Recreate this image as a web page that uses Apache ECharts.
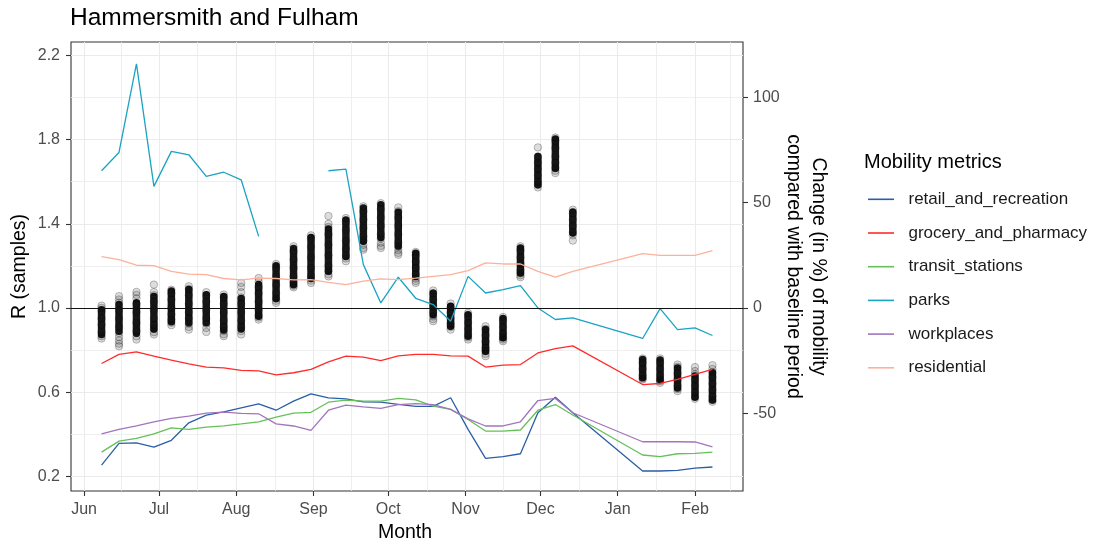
<!DOCTYPE html>
<html><head><meta charset="utf-8">
<script src="https://cdn.jsdelivr.net/npm/echarts@6/dist/echarts.min.js"></script>
<style>html,body{margin:0;padding:0;background:#fff}#c{width:1103px;height:548px}</style>
</head><body><div id="c"></div>
<script>
// ---------- data ----------
const weeks = ['2020-06-08','2020-06-15','2020-06-22','2020-06-29','2020-07-06','2020-07-13','2020-07-20','2020-07-27',
  '2020-08-03','2020-08-10','2020-08-17','2020-08-24','2020-08-31','2020-09-07','2020-09-14','2020-09-21','2020-09-28',
  '2020-10-05','2020-10-12','2020-10-19','2020-10-26','2020-11-02','2020-11-09','2020-11-16','2020-11-23','2020-11-30',
  '2020-12-07','2020-12-14','2021-01-11','2021-01-18','2021-01-25','2021-02-01','2021-02-08'];

const retail = [-74.7,-64.4,-64.1,-66.1,-62.9,-54.6,-50.9,-49.4,-47.5,-45.6,-48.6,-44.3,-40.8,-42.7,-43.2,-44.6,-44.8,
  -45.8,-46.8,-46.8,-42.7,-57.7,-71.5,-70.7,-69.3,-49.8,-42.4,-49.8,-77.5,-77.5,-77.2,-76.1,-75.6];
const grocery = [-26.4,-22.1,-20.9,-22.9,-24.8,-26.6,-28.1,-28.5,-29.7,-29.9,-31.8,-30.8,-29.2,-25.6,-22.9,-23.4,-25.0,
  -22.8,-22.1,-22.1,-22.8,-22.9,-28.1,-27.2,-26.9,-21.4,-19.3,-18.0,-36.4,-35.9,-34.0,-31.6,-29.2];
const transit = [-68.5,-63.3,-62.0,-59.8,-57.0,-57.7,-56.6,-56.0,-55.1,-54.1,-51.9,-50.0,-49.6,-44.8,-43.8,-44.3,-44.3,
  -43.0,-43.7,-46.7,-48.2,-53.0,-58.5,-58.5,-58.0,-48.6,-45.9,-50.9,-69.9,-70.7,-69.3,-69.1,-68.5];
const parks = [65.2,73.9,116.0,57.8,74.4,72.8,62.5,64.5,60.9,34.0,null,null,null,65.2,66.0,20.6,2.4,
  14.6,4.6,1.6,-6.3,15.0,7.1,8.7,10.6,0.0,-5.5,-4.7,-14.5,-0.3,-10.3,-9.5,-13.1];
const workplaces = [-59.8,-57.7,-56.1,-54.2,-52.5,-51.4,-50.0,-49.5,-50.1,-50.3,-55.1,-56.1,-58.2,-48.6,-46.2,-47.0,-47.7,
  -45.9,-45.5,-45.9,-48.2,-52.7,-56.1,-56.1,-54.1,-44.0,-43.0,-49.8,-63.6,-63.6,-63.6,-63.7,-66.0];
const residential = [24.4,23.0,20.3,20.1,17.4,16.1,15.8,14.0,13.3,14.2,14.0,13.3,13.5,12.2,11.1,12.7,13.8,
  13.5,14.2,15.0,15.8,17.7,21.4,20.9,20.9,17.4,14.6,17.4,25.8,25.0,25.0,25.0,27.2];

const metricNames = ['retail_and_recreation','grocery_and_pharmacy','transit_stations','parks','workplaces','residential'];

// dense part of each week's R sample column
const rCoreLow  = [0.874,0.889,0.880,0.900,0.935,0.930,0.930,0.895,0.900,0.960,1.045,1.110,1.140,1.175,1.245,1.317,1.335,
  1.295,1.150,0.968,0.913,0.866,0.794,0.858,1.166,1.586,1.664,1.356,0.668,0.660,0.620,0.576,0.562];
const rCoreHigh = [0.992,1.016,1.025,1.055,1.080,1.088,1.063,1.055,1.045,1.112,1.200,1.283,1.335,1.375,1.418,1.475,1.490,
  1.455,1.260,1.070,1.008,0.968,0.897,0.950,1.285,1.720,1.803,1.456,0.755,0.753,0.715,0.676,0.692];
// individual R samples
const rSamples = [
  [1.011,1.0,0.985,0.95,0.92,0.885,0.866,0.855],
  [1.056,1.04,1.025,0.99,0.95,0.91,0.88,0.862,0.845,0.83,0.818],
  [1.076,1.062,1.045,1.02,0.98,0.93,0.89,0.865,0.85],
  [1.111,1.075,1.06,1.03,0.99,0.95,0.92,0.9,0.885,0.874],
  [1.087,1.07,1.04,1.0,0.97,0.945,0.93,0.918],
  [1.103,1.09,1.06,1.02,0.98,0.95,0.925,0.91,0.897],
  [1.075,1.06,1.03,0.99,0.95,0.925,0.905,0.886],
  [1.064,1.05,1.02,0.98,0.94,0.91,0.89,0.875,0.866],
  [1.119,1.1,1.075,1.05,1.02,0.98,0.94,0.91,0.89,0.874],
  [1.142,1.125,1.1,1.07,1.03,0.99,0.965,0.955,0.945],
  [1.209,1.19,1.15,1.11,1.07,1.045,1.034,1.024],
  [1.293,1.27,1.23,1.19,1.15,1.12,1.105,1.098],
  [1.345,1.33,1.29,1.24,1.19,1.15,1.13,1.119],
  [1.437,1.4,1.385,1.35,1.3,1.25,1.2,1.175,1.16,1.15],
  [1.427,1.41,1.37,1.32,1.28,1.25,1.235,1.222],
  [1.483,1.46,1.42,1.38,1.34,1.32,1.3,1.285,1.277],
  [1.498,1.47,1.43,1.39,1.35,1.33,1.31,1.295,1.285],
  [1.478,1.46,1.43,1.39,1.35,1.31,1.29,1.275,1.262,1.253],
  [1.266,1.25,1.22,1.19,1.16,1.14,1.128,1.119],
  [1.083,1.07,1.04,1.01,0.98,0.96,0.947,0.937],
  [1.021,1.005,0.98,0.95,0.925,0.91,0.897],
  [0.976,0.96,0.93,0.9,0.875,0.86,0.85],
  [0.913,0.9,0.87,0.84,0.81,0.795,0.782,0.771],
  [0.957,0.94,0.91,0.88,0.86,0.85,0.842],
  [1.293,1.275,1.24,1.21,1.18,1.165,1.155,1.146],
  [1.763,1.72,1.69,1.66,1.63,1.6,1.585,1.573],
  [1.81,1.795,1.76,1.72,1.69,1.665,1.652,1.641],
  [1.467,1.45,1.42,1.39,1.36,1.345,1.32],
  [0.76,0.74,0.71,0.68,0.665,0.66],
  [0.76,0.74,0.71,0.68,0.66,0.652,0.644],
  [0.731,0.72,0.69,0.66,0.63,0.615,0.605],
  [0.719,0.7,0.685,0.66,0.63,0.6,0.58,0.568],
  [0.728,0.71,0.695,0.67,0.64,0.61,0.58,0.562,0.554]
];

const monthTicks = ['2020-06-01','2020-07-01','2020-08-01','2020-09-01','2020-10-01','2020-11-01','2020-12-01','2021-01-01','2021-02-01'];
const monthMinor = ['2020-06-16T00','2020-07-16T12','2020-08-16T12','2020-09-16T00','2020-10-16T12','2020-11-16T00','2020-12-16T12','2021-01-16T12','2021-02-15T00'];
const monthNames = ['Jan','Feb','Mar','Apr','May','Jun','Jul','Aug','Sep','Oct','Nov','Dec'];
const rTicks = [0.2,0.6,1.0,1.4,1.8,2.2];
const rMinor = [0.4,0.8,1.2,1.6,2.0];
const mobTicks = [-50,0,50,100];
const refR = 1;

// ---------- helpers / styling ----------
const DAY = 86400000;
const ORIGIN = Date.UTC(2020, 5, 1);
// date string -> days since 2020-06-01 (UTC, no DST issues)
function toDay(s){
  const parts = s.split('T');
  const d = parts[0].split('-').map(Number);
  const h = parts[1] ? Number(parts[1]) : 0;
  return (Date.UTC(d[0], d[1]-1, d[2], h) - ORIGIN) / DAY;
}
function monthLabel(v){
  return monthNames[new Date(ORIGIN + Math.round(v) * DAY).getUTCMonth()];
}
const FONT = "'Liberation Sans', Arial, sans-serif";
const colors = ['#2B5EA6','#FF2B2B','#66C05A','#1AA3C2','#A175BE','#FDB19B'];
const metricValues = [retail, grocery, transit, parks, workplaces, residential];
const xMin = toDay('2020-05-26T18');
const xMax = toDay('2021-02-20T06');
const rMin = 0.130, rMax = 2.264;
const mobMin = (rMin - 1) * 100, mobMax = (rMax - 1) * 100;

const sampleData = [];
weeks.forEach((w, i) => rSamples[i].forEach(v => sampleData.push([toDay(w), v])));
const coreData = [];
weeks.forEach((w, i) => { const t = toDay(w); coreData.push([t, rCoreLow[i]], [t, rCoreHigh[i]], [t, '-']); });

const series = [
  { type:'scatter', name:'R samples', xAxisIndex:0, yAxisIndex:0, data:sampleData, symbolSize:7.5, silent:true, z:2,
    itemStyle:{ color:'rgba(0,0,0,0.17)', borderColor:'rgba(0,0,0,0.3)', borderWidth:1 } },
  { type:'line', name:'R core', xAxisIndex:0, yAxisIndex:0, data:coreData, showSymbol:false, symbol:'none', connectNulls:false,
    silent:true, z:3, lineStyle:{ color:'rgba(0,0,0,0.9)', width:7.5, cap:'round' },
    markLine:{ silent:true, symbol:['none','none'], label:{show:false}, animation:false,
      lineStyle:{ color:'#111', width:1.2, type:'solid' }, data:[{ yAxis: refR }] } }
];
metricNames.forEach((name, k) => {
  series.push({ type:'line', name, xAxisIndex:0, yAxisIndex:1, showSymbol:false, symbol:'none', connectNulls:false, silent:true, z:4,
    data: weeks.map((w, i) => [toDay(w), metricValues[k][i] == null ? '-' : metricValues[k][i]]),
    lineStyle:{ color:colors[k], width:1.3 }, itemStyle:{ color:colors[k] } });
});

const noLine = { show:false, onZero:false };
const tickStyle = { show:true, inside:false, length:5, lineStyle:{ color:'#333', width:1.1 } };
const hiddenTick = { show:false, length:0, lineStyle:{ color:'rgba(0,0,0,0)', width:0 } };
const labelStyle = { fontSize:16, color:'#4D4D4D', fontFamily:FONT };

const option = {
  animation:false,
  backgroundColor:'#fff',
  title:{ text:'Hammersmith and Fulham', left:70, top:5.75, padding:0,
    textStyle:{ fontSize:24.5, lineHeight:24.5, fontWeight:'normal', color:'#000', fontFamily:FONT } },
  grid:{ left:71, right:360, top:42, bottom:57, show:true, borderColor:'#333', borderWidth:1.1, backgroundColor:'#fff' },
  legend:{ data:metricNames, orient:'vertical', left:868, top:190.3, padding:0, itemGap:15.7, itemWidth:26, itemHeight:1.6,
    icon:'rect', selectedMode:false,
    textStyle:{ fontSize:17, lineHeight:18, color:'#1a1a1a', fontFamily:FONT, padding:[0,0,0,9.5] } },
  xAxis:[
    { type:'value', min:xMin, max:xMax, position:'bottom', axisLine:noLine,
      axisTick:Object.assign({ customValues: monthTicks.map(toDay) }, tickStyle),
      axisLabel:Object.assign({ customValues: monthTicks.map(toDay), margin:11, formatter: monthLabel }, labelStyle),
      splitLine:{ show:true, lineStyle:{ color:'#EBEBEB', width:1.1 } } },
    { type:'value', min:xMin, max:xMax, position:'bottom', offset:0, axisLine:noLine,
      axisTick:Object.assign({ customValues: monthMinor.map(toDay) }, hiddenTick), axisLabel:{show:false},
      splitLine:{ show:true, lineStyle:{ color:'#EBEBEB', width:0.8 } } }
  ],
  yAxis:[
    { type:'value', min:rMin, max:rMax, position:'left', axisLine:noLine,
      axisTick:Object.assign({ customValues:rTicks }, tickStyle),
      axisLabel:Object.assign({ customValues:rTicks, margin:11, formatter: v => v.toFixed(1) }, labelStyle),
      splitLine:{ show:true, lineStyle:{ color:'#EBEBEB', width:1.1 } } },
    { type:'value', min:mobMin, max:mobMax, position:'right', axisLine:noLine,
      axisTick:Object.assign({ customValues:mobTicks }, tickStyle),
      axisLabel:Object.assign({ customValues:mobTicks, margin:10 }, labelStyle),
      splitLine:{ show:false } },
    { type:'value', min:rMin, max:rMax, position:'left', offset:0, axisLine:noLine,
      axisTick:Object.assign({ customValues:rMinor }, hiddenTick), axisLabel:{show:false},
      splitLine:{ show:true, lineStyle:{ color:'#EBEBEB', width:0.8 } } }
  ],
  graphic:[
    { type:'text', x:19.5, y:266.5, rotation:Math.PI/2, silent:true,
      style:{ text:'R (samples)', fontSize:19.5, fontFamily:FONT, fill:'#000', align:'center', verticalAlign:'middle' } },
    { type:'text', x:805.5, y:266.5, rotation:-Math.PI/2, silent:true,
      style:{ text:'Change (in %) of mobility\ncompared with baseline period', fontSize:19.5, lineHeight:25, fontFamily:FONT,
        fill:'#000', align:'center', verticalAlign:'middle' } },
    { type:'text', x:405, y:532.3, silent:true,
      style:{ text:'Month', fontSize:19.5, fontFamily:FONT, fill:'#000', align:'center', verticalAlign:'middle' } },
    { type:'text', x:864, y:162.8, silent:true,
      style:{ text:'Mobility metrics', fontSize:20, fontFamily:FONT, fill:'#000', align:'left', verticalAlign:'middle' } }
  ],
  series
};
const chart = echarts.init(document.getElementById('c'), null, { renderer:'canvas' });
chart.setOption(option);
</script>
</body></html>
